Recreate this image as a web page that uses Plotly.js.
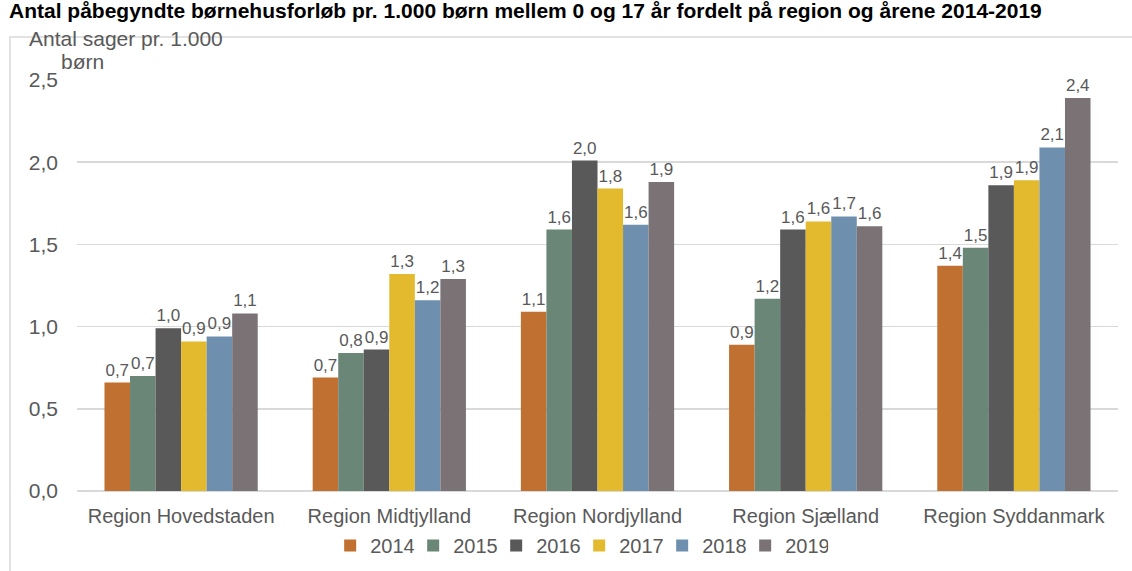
<!DOCTYPE html>
<html>
<head>
<meta charset="utf-8">
<script src="https://cdn.plot.ly/plotly-3.0.1.min.js"></script>
<style>html,body{margin:0;padding:0;background:#fff;}#chart{width:1132px;height:571px;}</style>
</head>
<body>
<div id="chart"></div>
<script>
const regions = ["Region Hovedstaden", "Region Midtjylland", "Region Nordjylland", "Region Sjælland", "Region Syddanmark"];
const years = ["2014", "2015", "2016", "2017", "2018", "2019"];
const v2014 = [0.66, 0.69, 1.09, 0.89, 1.37];
const v2015 = [0.70, 0.84, 1.59, 1.17, 1.48];
const v2016 = [0.99, 0.86, 2.01, 1.59, 1.86];
const v2017 = [0.91, 1.32, 1.84, 1.64, 1.89];
const v2018 = [0.94, 1.16, 1.62, 1.67, 2.09];
const v2019 = [1.08, 1.29, 1.88, 1.61, 2.39];
const series = [v2014, v2015, v2016, v2017, v2018, v2019];
const colors = ["#c07030", "#6a8676", "#595959", "#e3ba2e", "#6f8fae", "#7a7274"];

const textColor = "#595959";
const traces = series.map((vals, i) => ({
  type: "bar",
  name: years[i],
  x: regions,
  y: vals,
  marker: {color: colors[i]},
  texttemplate: "%{y:.1f}",
  textposition: "outside",
  textfont: {family: "Liberation Sans, Arial, sans-serif", size: 17, color: textColor},
  cliponaxis: false,
  hoverinfo: "skip"
}));

const layout = {
  width: 1132, height: 571,
  margin: {l: 77, r: 14, t: 80, b: 80, autoexpand: false},
  paper_bgcolor: "#ffffff", plot_bgcolor: "#ffffff",
  separators: ",.",
  barmode: "group",
  bargap: 0.264,
  bargroupgap: 0,
  showlegend: true,
  font: {family: "Liberation Sans, Arial, sans-serif", color: textColor},
  legend: {orientation: "h", x: 0.2432, xanchor: "left", y: -0.0854, yanchor: "top",
           bgcolor: "rgba(0,0,0,0)",
           font: {size: 20, color: textColor}, traceorder: "normal",
           entrywidth: 38, entrywidthmode: "pixels"},
  xaxis: {type: "category", showgrid: false, showline: false, zeroline: false, ticks: "",
          ticklabelstandoff: 11,
          tickfont: {size: 20, color: textColor}, fixedrange: true},
  yaxis: {range: [0, 2.5], dtick: 0.5, tickformat: ".1f", showgrid: true, gridcolor: "#d9d9d9", gridwidth: 1.5,
          zeroline: true, zerolinecolor: "#d9d9d9", zerolinewidth: 1.5, showline: false, ticks: "",
          ticklabelstandoff: 18, tickfont: {size: 21, color: textColor}, fixedrange: true},
  shapes: [
    {type: "rect", xref: "paper", yref: "paper", x0: -0.0644, x1: 1.2, y0: -0.4, y1: 1.1046,
     line: {color: "#d9d9d9", width: 1.5}, fillcolor: "rgba(0,0,0,0)", layer: "below"}
  ],
  annotations: [
    {text: "<b>Antal påbegyndte børnehusforløb pr. 1.000 børn mellem 0 og 17 år fordelt på region og årene 2014-2019</b>",
     xref: "paper", yref: "paper", x: -0.0672, y: 1.1684, xanchor: "left", yanchor: "middle", showarrow: false,
     font: {size: 21, color: "#000000"}},
    {text: "Antal sager pr. 1.000", xref: "paper", yref: "paper", x: -0.0485, y: 1.1, xanchor: "left", yanchor: "middle",
     showarrow: false, font: {size: 21, color: textColor}},
    {text: "børn", xref: "paper", yref: "paper", x: -0.0175, y: 1.046, xanchor: "left", yanchor: "middle",
     showarrow: false, font: {size: 21, color: textColor}}
  ]
};

Plotly.newPlot("chart", traces, layout, {displayModeBar: false, staticPlot: true});
</script>
</body>
</html>
